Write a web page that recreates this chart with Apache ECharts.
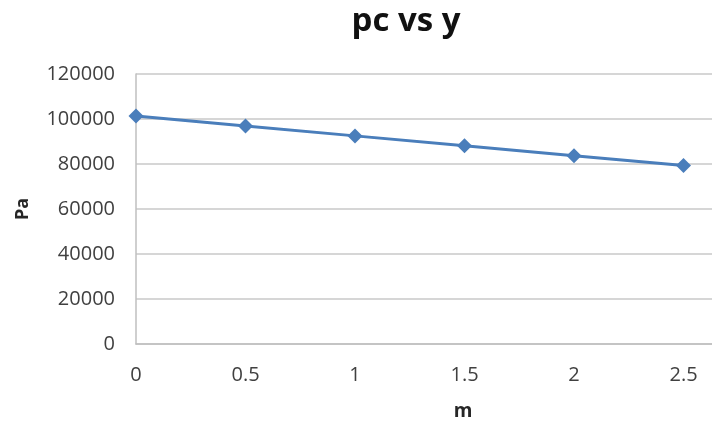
<!DOCTYPE html>
<html>
<head>
<meta charset="utf-8">
<script src="https://cdn.jsdelivr.net/npm/echarts@6/dist/echarts.min.js"></script>
<style>
html,body{margin:0;padding:0;background:#fff;}
#c{width:712px;height:421px;}
</style>
</head>
<body>
<div id="c"></div>
<script>
var depths = [0, 0.5, 1, 1.5, 2, 2.5];
var pressures = [101325, 96900, 92500, 88100, 83700, 79300];
var yTicks = [0, 20000, 40000, 60000, 80000, 100000, 120000];
var titleText = 'pc vs y';
var xName = 'm';
var yName = 'Pa';

var chart = echarts.init(document.getElementById('c'));
var font = 'Open Sans';
chart.setOption({
  animation: false,
  backgroundColor: '#ffffff',
  title: {
    text: titleText,
    left: 401,
    top: 0,
    textAlign: 'center',
    textStyle: {fontFamily: font, fontSize: 33, fontWeight: 'bold', color: '#111'}
  },
  grid: {left: 136, right: 0, top: 74, bottom: 77, outerBoundsMode: 'none', containLabel: false},
  xAxis: {
    type: 'value',
    min: 0,
    max: 2.63,
    interval: 0.5,
    name: xName,
    nameLocation: 'middle',
    nameGap: 58,
    nameTextStyle: {fontFamily: font, fontSize: 19, fontWeight: 'bold', color: '#262626', padding: [0, 0, 0, 78]},
    axisLine: {show: true, lineStyle: {color: '#bfbfbf', width: 1.5}},
    axisTick: {show: false},
    splitLine: {show: false},
    axisLabel: {
      showMaxLabel: false,
      margin: 21,
      fontFamily: font, fontSize: 20, color: '#404040',
      formatter: function (v) { return String(v); }
    }
  },
  yAxis: {
    type: 'value',
    min: yTicks[0],
    max: yTicks[yTicks.length - 1],
    interval: yTicks[1] - yTicks[0],
    name: yName,
    nameLocation: 'middle',
    nameGap: 104,
    nameRotate: 90,
    nameTextStyle: {fontFamily: font, fontSize: 18, fontWeight: 'bold', color: '#262626'},
    axisLine: {show: true, lineStyle: {color: '#bfbfbf', width: 1.5}},
    axisTick: {show: false},
    splitLine: {show: true, lineStyle: {color: '#c8c8c8', width: 1.5}},
    axisLabel: {
      margin: 21, fontFamily: font, fontSize: 20, color: '#404040',
      formatter: function (v) { return String(v); }
    }
  },
  series: [{
    type: 'line',
    data: depths.map(function (d, i) { return [d, pressures[i]]; }),
    symbol: 'diamond',
    symbolSize: 15,
    lineStyle: {color: '#4a7ebb', width: 3},
    itemStyle: {color: '#4a7ebb'}
  }]
});
</script>
</body>
</html>
